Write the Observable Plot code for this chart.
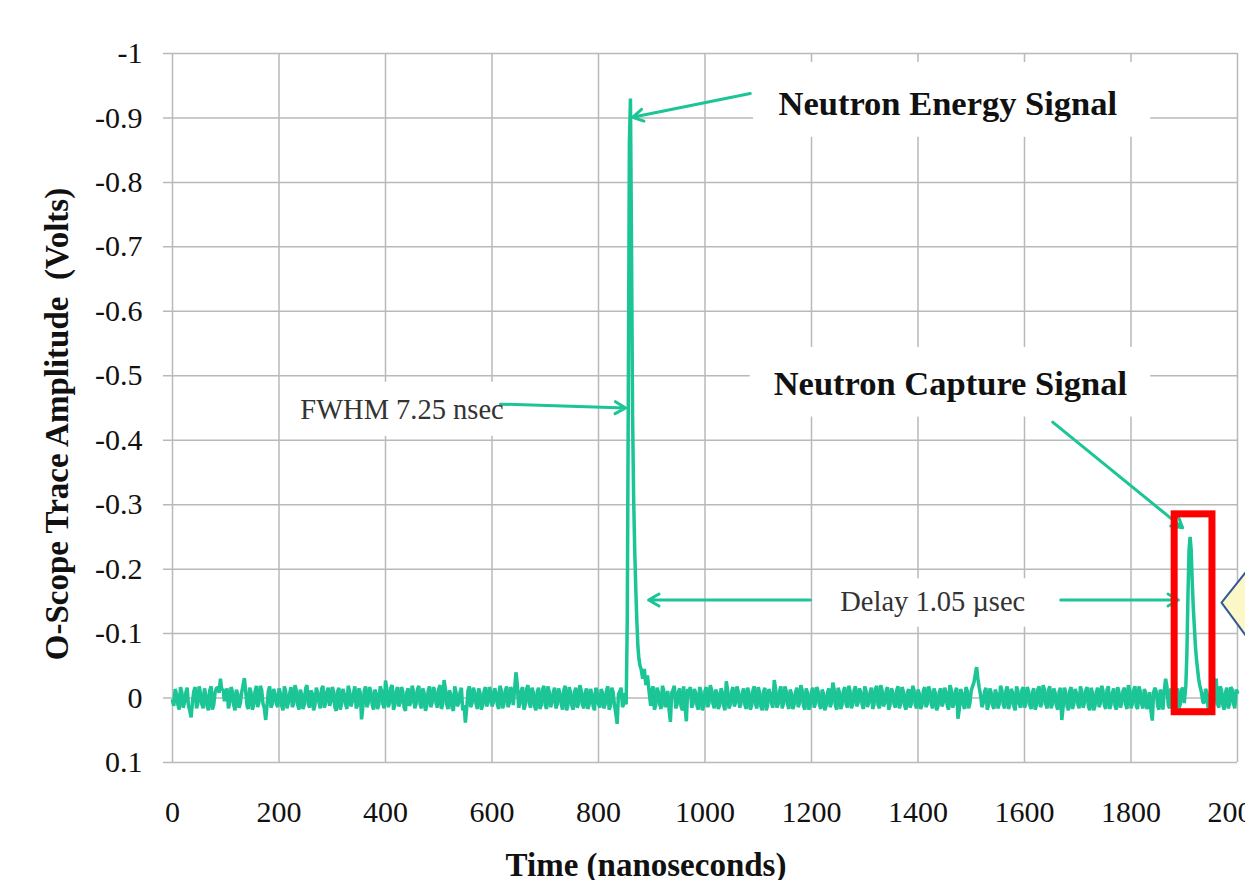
<!DOCTYPE html>
<html>
<head>
<meta charset="utf-8">
<script src="https://cdn.jsdelivr.net/npm/d3@7"></script>
<script src="https://cdn.jsdelivr.net/npm/@observablehq/plot@0.6"></script>
<style>
  html, body { margin: 0; padding: 0; background: white; overflow: hidden; }
  #chart { width: 1245px; height: 880px; overflow: hidden; }
</style>
</head>
<body>
<div id="chart"></div>
<script>
// ---- Tick values ----
const xTicks = [0, 200, 400, 600, 800, 1000, 1200, 1400, 1600, 1800, 2000];
const yTicks = [-1, -0.9, -0.8, -0.7, -0.6, -0.5, -0.4, -0.3, -0.2, -0.1, 0, 0.1];

// ---- Baseline noise (millivolts), samples at 0, 5, 10 ... 2000 ns; null = replaced by a pulse ----
const baselineStepNs = 5;
const baselineMv = [
  4,-14,10,-17,15,-8,12,30,-10,16,-18,9,-15,13,-12,18,-9,-16,-30,-14,
  -6,16,-17,11,-13,15,-9,-31,12,-16,18,-10,14,-19,9,34,-11,15,-14,8,
  -15,12,-18,16,-7,14,-20,10,-13,17,-15,9,-12,19,-16,7,-14,15,-10,12,
  -17,14,-10,18,-14,9,-19,13,-8,16,-15,33,-11,14,-17,10,-13,17,-18,9,
  -27,14,-16,18,-10,13,-17,15,-9,12,-19,16,-13,10,-15,20,-11,14,-17,8,
  -14,17,-28,10,-12,15,-18,13,-9,19,38,-12,14,-16,9,-15,18,-10,13,-17,
  13,-15,10,-19,16,-11,14,-17,11,-40,15,-12,18,-14,8,-16,13,-10,17,-13,
  11,-18,14,-9,16,-15,9,-13,19,-17,12,-10,15,-20,11,-8,17,-14,13,-16,
  9,-14,16,-12,18,-16,11,40,-10,14,-8,
  null,null,null,null,null,null,null,null,null,
  -12,18,-16,10,-19,14,-11,37,-13,16,-9,13,-18,36,-10,15,-14,12,-17,19,
  -11,14,-20,9,-13,17,-15,12,-26,16,-10,13,-18,15,-8,11,-16,18,-12,10,
  -17,13,-10,19,-14,8,-28,15,-11,16,-18,10,-13,17,-9,14,-20,12,-15,18,
  -10,15,-17,11,-13,19,-8,14,-24,12,-16,17,-11,9,-19,16,-12,13,-15,10,
  -18,14,-9,17,-14,11,-20,13,-10,18,-15,9,-12,16,-17,12,-8,15,-19,11,
  -13,17,-11,14,-18,10,-15,19,-9,13,-16,12,-20,15,-10,32,-14,11,-17,16,
  -12,-24,-48,-16,14,-10,18,-15,11,-13,16,-19,10,-11,17,-14,13,-18,9,-12,
  15,-17,11,-9,18,-13,14,-20,10,-12,16,-15,12,-10,34,-16,13,-11,17,-14,
  9,-18,15,-12,13,-16,19,-10,14,-19,11,-13,17,-8,12,-17,15,-11,10,-20,
  16,-12,13,-18,10,-14,17,-9,35,-16,12,-13,18,-30,11,-15,14,-10,16,-13,
  null,null,null,null,null,null,null,null,
  -14,17,-11,13,-30,15,-12,18,-16,10,-13,16,-9
];

// ---- Baseline noise (millivolts), samples at 2.5, 7.5 ... 1997.5 ns; null = replaced by a pulse ----
const baselineHalfMv = [
  12,-6,18,-9,7,-16,20,6,-17,9,-8,16,-6,19,-18,10,-15,-8,-12,5,
  -15,7,-10,19,-6,8,-20,-10,17,-9,11,-19,6,-12,16,12,-18,9,-7,14,
  -8,19,-11,7,-17,9,-12,18,-6,10,-20,15,-7,11,-9,16,-19,8,-16,6,
  -10,20,-16,9,-7,17,-11,6,-18,11,-9,14,-18,8,-10,18,-7,10,-12,16,
  -14,8,-20,11,-17,7,-10,20,-15,7,-11,9,-19,16,-8,12,-18,8,-11,15,
  -20,9,-14,17,-6,20,-9,7,-16,11,16,-18,8,-9,17,-8,11,-17,7,-10,
  7,-9,17,-12,9,-18,8,-11,-14,-22,9,-17,10,-20,15,-9,19,-16,11,-19,
  17,-10,8,-16,10,-8,18,-19,12,-9,18,-16,9,-12,16,-15,10,-7,19,-10,
  15,-8,10,-18,12,-9,24,-6,-16,9,
  null,null,null,null,null,null,null,null,null,null,
  -18,11,-9,17,-12,8,18,-8,-19,10,-15,19,14,-14,-17,9,-8,18,-10,12,
  -17,8,-12,16,-8,11,-9,19,-12,10,-17,7,-10,9,-15,17,-9,12,-18,16,
  -9,19,-16,12,-8,15,-15,9,-18,8,-11,17,-7,10,-16,8,-12,18,-8,11,
  -16,8,-10,17,-7,12,-15,8,-14,18,-9,10,-17,15,-11,9,-18,7,-9,17,
  -11,7,-16,10,-19,16,-12,8,-17,11,-9,15,-18,9,-10,18,-14,9,-12,16,
  -7,11,-17,9,-11,16,-8,13,-15,7,-10,18,-13,9,-16,18,-8,17,-11,8,
  -18,-36,-30,-5,8,-16,11,-8,17,-7,10,-12,16,-18,10,-9,19,-11,15,-17,
  9,-11,17,-15,11,-18,9,-13,16,-18,9,-8,18,-16,15,-9,19,-17,10,-8,
  16,-10,8,-17,19,-9,12,-16,8,-11,17,-18,10,-15,18,-9,8,-16,17,-12,
  9,-18,17,-10,16,-8,11,20,-9,-10,18,-7,-12,-18,16,-9,19,-15,10,-16,
  null,null,null,null,null,null,null,
  8,-9,18,-16,-20,9,-18,11,-9,16,-17,9,-13
];

// ---- Neutron energy pulse ----
const energyPulseNs = [852,854,856,858,860,862,864,866,868,870,872,874,876,878,880,883,886,889,892,895,898];
const energyPulseV  = [0.01,-0.12,-0.47,-0.86,-0.93,-0.70,-0.44,-0.31,-0.23,-0.17,-0.12,-0.08,-0.06,-0.05,-0.045,-0.03,-0.045,-0.02,-0.035,-0.01,0.012];

// ---- Neutron capture pulse ----
const capturePulseNs = [1900,1903,1905,1907,1909,1911,1913,1915,1917,1919,1921,1923,1925,1927,1929,1932,1935];
const capturePulseV  = [0.008,-0.02,-0.07,-0.16,-0.23,-0.25,-0.23,-0.18,-0.14,-0.11,-0.08,-0.06,-0.045,-0.03,-0.02,-0.01,0.006];

// ---- Annotations (data coordinates) ----
const annoLabels  = ["Neutron Energy Signal", "FWHM 7.25 nsec", "Neutron Capture Signal", "Delay 1.05 \u00b5sec"];
const annoX       = [1138, 240, 1129, 1254];
const annoY       = [-0.922, -0.4465, -0.487, -0.149];
const annoBold    = [true, false, true, false];
const boxX1 = [1091, 222, 1085, 1226];
const boxX2 = [1837, 616, 1837, 1621];
const boxY1 = [-0.986, -0.490, -0.544, -0.185];
const boxY2 = [-0.870, -0.406, -0.436, -0.110];

const arrowX1 = [1085, 616, 1653, 1198, 1668];
const arrowY1 = [-0.938, -0.456, -0.428, -0.152, -0.152];
const arrowX2 = [864, 851, 1897, 894, 1889];
const arrowY2 = [-0.901, -0.450, -0.264, -0.152, -0.152];

const highlightBox = {x1: 1882, x2: 1953, y1: -0.285, y2: 0.022};
const calloutX = [1970, 2020, 2020, 1970];
const calloutY = [-0.148, -0.200, -0.092, -0.148];

// ---- Build tables ----
const trace = [];
baselineMv.forEach((mv, i) => { if (mv !== null) trace.push({t: i * baselineStepNs, v: mv / 1000}); });
baselineHalfMv.forEach((mv, i) => { if (mv !== null) trace.push({t: i * baselineStepNs + baselineStepNs / 2, v: mv / 1000}); });
energyPulseNs.forEach((t, i) => trace.push({t, v: energyPulseV[i]}));
capturePulseNs.forEach((t, i) => trace.push({t, v: capturePulseV[i]}));
trace.sort((a, b) => a.t - b.t);

const annos = annoLabels.map((text, i) => ({text, x: annoX[i], y: annoY[i], bold: annoBold[i]}));
const boxes = boxX1.map((x1, i) => ({x1, x2: boxX2[i], y1: boxY1[i], y2: boxY2[i]}));
const arrows = arrowX1.map((x1, i) => ({x1, y1: arrowY1[i], x2: arrowX2[i], y2: arrowY2[i]}));
const callout = calloutX.map((x, i) => ({x, y: calloutY[i]}));

const green = "#1bc596";
const serif = "Liberation Serif, Times New Roman, serif";

const chart = Plot.plot({
  width: 1245,
  height: 880,
  marginLeft: 172,
  marginRight: 8,
  marginTop: 53,
  marginBottom: 118,
  style: {fontFamily: serif, fontSize: "30px", background: "white", color: "black"},
  x: {domain: [0, 2000], axis: null},
  y: {domain: [0.1, -1], axis: null},
  marks: [
    Plot.ruleX(xTicks, {x: d => d, y1: 0.1, y2: -1, stroke: "#b9b9b9", strokeWidth: 1.5, strokeOpacity: 1}),
    Plot.ruleY(yTicks, {y: d => d, x1: -17, x2: 2000, stroke: "#b9b9b9", strokeWidth: 1.5, strokeOpacity: 1}),
    Plot.text(yTicks, {y: d => d, frameAnchor: "left", dx: -30, textAnchor: "end", text: d => String(d), fontSize: 30, fill: "#111"}),
    Plot.text(xTicks, {x: d => d, frameAnchor: "bottom", dy: 50, textAnchor: "middle", lineAnchor: "middle", text: d => String(d), fontSize: 30, fill: "#111"}),
    Plot.text(["Time (nanoseconds)"], {frameAnchor: "bottom", dx: -59, dy: 103, textAnchor: "middle", lineAnchor: "middle", fontWeight: "bold", fontSize: 33, fill: "#111"}),
    Plot.text(["O-Scope Trace Amplitude \u00a0(Volts)"], {frameAnchor: "left", rotate: -90, dx: -115, dy: 16, textAnchor: "middle", lineAnchor: "middle", fontWeight: "bold", fontSize: 33, fill: "#111"}),
    Plot.rect(boxes, {x1: "x1", x2: "x2", y1: "y1", y2: "y2", fill: "white"}),
    Plot.line(trace, {x: "t", y: "v", stroke: green, strokeWidth: 3.5, curve: "linear", strokeLinejoin: "miter", strokeMiterlimit: 2}),
    Plot.arrow(arrows, {x1: "x1", y1: "y1", x2: "x2", y2: "y2", stroke: green, strokeWidth: 3, headLength: 6, headAngle: 60}),
    Plot.text(annos.filter(d => d.bold), {x: "x", y: "y", text: "text", textAnchor: "start", lineAnchor: "middle", fontWeight: "bold", fontSize: 34.5, fill: "#111"}),
    Plot.text(annos.filter(d => !d.bold), {x: "x", y: "y", text: "text", textAnchor: "start", lineAnchor: "middle", fontSize: 28.5, fill: "#333"}),
    Plot.rect([highlightBox], {x1: "x1", x2: "x2", y1: "y1", y2: "y2", fill: "none", stroke: "#ff0000", strokeWidth: 7}),
    Plot.line(callout, {x: "x", y: "y", fill: "#fbf7c6", stroke: "#34579a", strokeWidth: 2})
  ]
});
document.getElementById("chart").appendChild(chart);
</script>
</body>
</html>
